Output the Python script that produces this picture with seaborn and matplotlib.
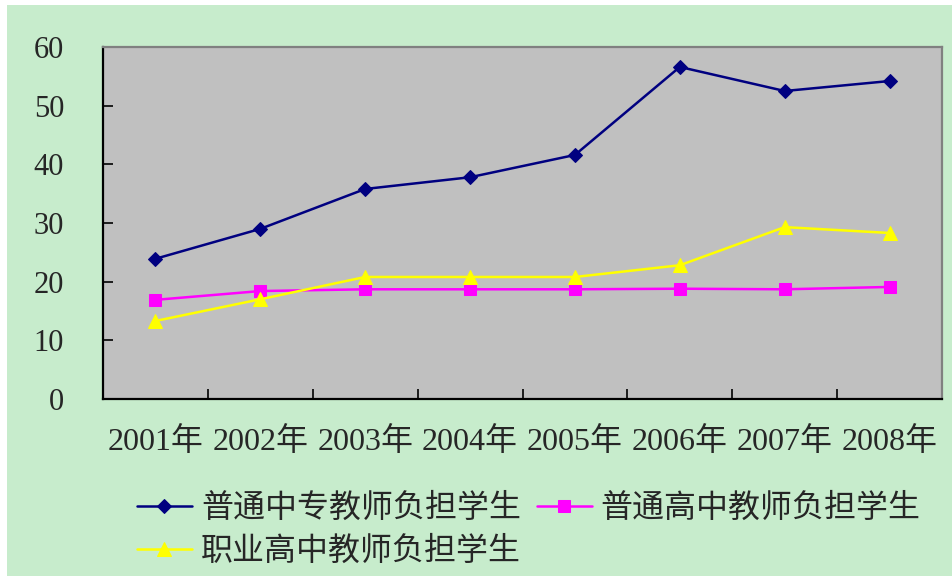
import numpy as np
import pandas as pd
import matplotlib
matplotlib.use("Agg")
import matplotlib.pyplot as plt
from matplotlib.patches import Rectangle
import seaborn as sns

years = ["2001年", "2002年", "2003年", "2004年", "2005年", "2006年", "2007年", "2008年"]
zhongzhuan = [23.9, 29.0, 35.8, 37.8, 41.6, 56.6, 52.5, 54.2]
gaozhong = [16.9, 18.4, 18.7, 18.7, 18.7, 18.8, 18.7, 19.1]
zhigao = [13.3, 17.0, 20.8, 20.8, 20.8, 22.8, 29.3, 28.3]
series_names = ["普通中专教师负担学生", "普通高中教师负担学生", "职业高中教师负担学生"]
y_ticks = [0, 10, 20, 30, 40, 50, 60]

sns.set_style("white")
plt.rcParams["font.family"] = ["Liberation Serif", "Noto Sans CJK SC"]

W, H = 952, 576
fig = plt.figure(figsize=(W / 100, H / 100), dpi=100)
fig.patch.set_facecolor("white")
fig.patches.append(Rectangle((7 / W, 0), 1, (H - 5) / H, transform=fig.transFigure,
                             facecolor="#C7ECCC", edgecolor="none", zorder=-10))

ax = fig.add_axes([103 / W, 1 - 399 / H, (942 - 103) / W, (399 - 47) / H])
ax.set_facecolor("#C0C0C0")

pos = np.arange(len(years))
df = pd.DataFrame({"pos": pos, "a": zhongzhuan, "b": gaozhong, "c": zhigao})

styles = [
    ("a", "#000080", "D", 7),
    ("b", "#FF00FF", "s", 8),
    ("c", "#FFFF00", "^", 9.5),
]
for (col, color, marker, ms), name in zip(styles, series_names):
    sns.lineplot(data=df, x="pos", y=col, ax=ax, color=color, marker=marker,
                 markersize=ms, markeredgecolor=color, linewidth=1.8, label=name)

handles, labels = ax.get_legend_handles_labels()
if ax.get_legend() is not None:
    ax.get_legend().remove()
# row-wise order for a 2-column legend
order = [0, 2, 1]
handles = [handles[i] for i in order]
labels = [labels[i] for i in order]

ax.set_xlim(-0.5, len(years) - 0.5)
ax.set_ylim(0, 60)
ax.set_xlabel("")
ax.set_ylabel("")

ax.set_yticks(y_ticks)
ax.set_yticklabels([str(v) for v in y_ticks], fontsize=22)
ax.tick_params(axis="y", direction="in", length=7, width=1.2, color="black", pad=28, left=True)

ax.set_xticks(pos)
ax.set_xticklabels(years, fontsize=23)
ax.set_xticks(np.arange(0.5, len(years) - 1, 1), minor=True)
ax.tick_params(axis="x", which="major", length=0, pad=20)
ax.tick_params(axis="x", which="minor", direction="in", length=7, width=1.2, color="black", bottom=True)

for side in ["left", "bottom"]:
    ax.spines[side].set_color("black")
    ax.spines[side].set_linewidth(1.6)
for side in ["top", "right"]:
    ax.spines[side].set_color("#808080")
    ax.spines[side].set_linewidth(1.6)
    ax.spines[side].set_visible(True)

fig.legend(handles, labels, loc="upper left", bbox_to_anchor=(137 / W, 1 - 494 / H),
           ncol=2, frameon=False, fontsize=23, handlelength=1.72, handletextpad=0.28,
           columnspacing=0.5, labelspacing=0.4, borderpad=0, borderaxespad=0)

fig.savefig("out.png", dpi=100)
